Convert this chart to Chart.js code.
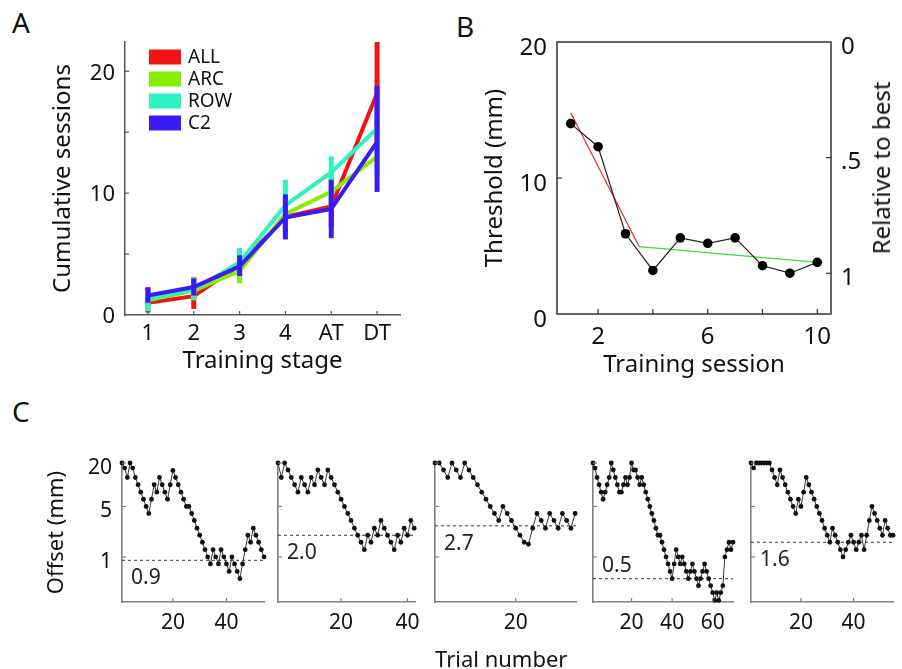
<!DOCTYPE html>
<html>
<head>
<meta charset="utf-8">
<script src="https://cdn.jsdelivr.net/npm/chart.js@4.4.1/dist/chart.umd.min.js"></script>
<style>
  body { margin: 0; background: #fff; }
  #page { position: relative; width: 902px; height: 669px; overflow: hidden; font-family: "Noto Sans", sans-serif; color: #111; }
  canvas { position: absolute; }
  .panel { position: absolute; font-size: 28px; line-height: 28px; }
  .note { position: absolute; font-size: 22px; line-height: 26px; white-space: nowrap; }
  .rot { position: absolute; font-size: 24px; line-height: 28px; white-space: nowrap; transform: translate(-50%, -50%) rotate(-90deg); }
</style>
</head>
<body>
<div id="page">
  <div class="panel" style="left:12px;top:8px">A</div>
  <div class="panel" style="left:456px;top:12px">B</div>
  <div class="panel" style="left:12px;top:397px">C</div>
  <canvas id="chartA" width="420" height="380" style="left:0;top:0"></canvas>
  <canvas id="chartB" width="482" height="380" style="left:420px;top:0"></canvas>
  <div id="relTitle" class="rot">Relative to best</div>
  <canvas id="run1" width="272" height="200" style="left:0;top:440px"></canvas>
  <canvas id="run2" width="160" height="200" style="left:268px;top:440px"></canvas>
  <canvas id="run3" width="159" height="200" style="left:425px;top:440px"></canvas>
  <canvas id="run4" width="159" height="200" style="left:582px;top:440px"></canvas>
  <canvas id="run5" width="161" height="200" style="left:740px;top:440px"></canvas>
  <div class="note" style="left:435px;top:645px">Trial number</div>
</div>
<script>
// ---- panel A: cumulative sessions per training stage
const stages = ['1', '2', '3', '4', 'AT', 'DT'];
const groupNames = ['ALL', 'ARC', 'ROW', 'C2'];
const groupColors = ['#f01414', '#86ee00', '#30f2c0', '#3a1af5'];
const allMean = [1.0, 1.55, 4.1, 8.05, 8.9, 18.2];
const allLo = [0.2, 0.5, 3.2, 6.8, 7.2, 14.2];
const allHi = [2.3, 3.1, 5.0, 9.6, 10.6, 22.4];
const arcMean = [1.2, 2.0, 3.6, 8.3, 10.1, 13.0];
const arcLo = [0.6, 1.2, 2.6, 7.0, 8.8, 11.5];
const arcHi = [1.9, 2.9, 4.8, 9.6, 11.6, 14.6];
const rowMean = [1.3, 2.1, 4.3, 9.0, 11.7, 15.3];
const rowLo = [0.3, 1.3, 3.2, 6.7, 10.6, 13.5];
const rowHi = [2.0, 3.1, 5.5, 11.1, 13.0, 17.0];
const c2Mean = [1.6, 2.3, 4.0, 8.0, 8.7, 14.2];
const c2Lo = [1.0, 1.6, 3.2, 6.2, 6.3, 10.1];
const c2Hi = [2.2, 3.0, 4.9, 9.9, 11.1, 18.8];
const sessionTicksA = [0, 5, 10, 15, 20];
const sessionLabelsA = [0, 10, 20];

// ---- panel B: threshold per training session
const sessions = [1, 2, 3, 4, 5, 6, 7, 8, 9, 10];
const threshold = [14.0, 12.3, 5.9, 3.2, 5.6, 5.2, 5.6, 3.55, 3.0, 3.8];
const earlyFitX = [1, 3.5];
const earlyFitY = [14.8, 4.95];
const lateFitX = [3.5, 10];
const lateFitY = [4.95, 3.8];
const sessionTicksB = [2, 4, 6, 8, 10];
const sessionLabelsB = [2, 6, 10];
const thresholdTicks = [0, 10, 20];
const relativeTicks = [0, 0.5, 1];
const relativeLabels = ['0', '.5', '1'];

// ---- panel C: staircase offsets (mm) per trial, five runs
const run1 = [20, 17, 12.6, 20, 17, 12.6, 10, 7.9, 6.3, 5,
  4, 6.3, 10, 7.9, 12.6, 10, 7.9, 6.3, 10, 15.8,
  12.6, 10, 7.9, 6.3, 5, 5, 4, 3.2, 2.5, 2,
  1.6, 1.26, 1, 0.8, 1.26, 1, 0.8, 1.26, 1, 0.8,
  0.63, 1, 0.8, 0.63, 0.5, 0.8, 1.26, 2, 1.6, 2.5,
  2, 1.6, 1.26, 1];
const run2 = [20, 12.6, 20, 16, 12.6, 10, 7.9, 12.6, 10, 7.9,
  12.6, 10, 16, 12.6, 10, 16, 12.6, 10, 7.9, 6.3,
  5, 4, 3.2, 2.5, 2, 1.6, 1.26, 2, 1.6, 2.5,
  2, 3.2, 2.5, 2, 1.6, 1.26, 2, 1.6, 2.5, 2,
  3.2, 2.5];
const run3 = [20, 20, 16, 12.6, 20, 16, 12.6, 20, 16, 12.6,
  10, 7.9, 6.3, 5, 4, 3.2, 5, 4, 3.2, 2.5,
  2, 1.6, 1.5, 2.5, 4, 3.2, 2.5, 4, 3.2, 2.5,
  4, 3.2, 2.5, 4];
const run4 = [20, 17, 12.6, 10, 7.9, 6.3, 7.9, 10, 12.6, 20,
  16, 12.6, 10, 7.9, 7.9, 10, 12.6, 10, 12.6, 20,
  16, 16, 12.6, 10, 12.6, 10, 7.9, 6.3, 5, 4,
  3.2, 2.5, 2, 2, 1.6, 1.26, 1, 0.8, 0.63, 0.5,
  0.8, 1.26, 1, 0.8, 1, 0.8, 0.63, 0.5, 0.63, 0.8,
  0.63, 0.5, 0.4, 0.5, 0.63, 0.8, 0.63, 0.5, 0.4, 0.32,
  0.25, 0.32, 0.25, 0.32, 0.4, 1, 1.26, 1.6, 1.26, 1.6];
const run5 = [20, 17, 20, 20, 20, 20, 20, 20, 16, 12.6,
  10, 16, 12.6, 10, 7.9, 6.3, 5, 4, 6.3, 5,
  7.9, 12.6, 10, 7.9, 6.3, 5, 4, 3.2, 2.5, 2,
  1.6, 2.5, 2, 1.6, 1.26, 1, 1.26, 1.6, 2, 1.6,
  1.26, 1.6, 2, 1.26, 2, 3.2, 5, 4, 3.2, 2.5,
  2, 3.2, 2.5, 2, 2];
const runThresholds = [0.9, 2.0, 2.7, 0.5, 1.6];
const runTrialMax = [54, 42.5, 34.2, 70, 55];
const runTrialTicks = [[20, 40], [20, 40], [20], [20, 40, 60], [20, 40]];
const offsetTicks = [1, 5, 20];

Chart.defaults.font.family = '"Noto Sans", sans-serif';
Chart.defaults.color = '#111';
Chart.defaults.animation = false;

// short tick marks pointing into the plot area
const inwardTicks = {
  id: 'inwardTicks',
  afterDatasetsDraw(chart, args, opts) {
    const ctx = chart.ctx;
    const len = opts.len || 5;
    ctx.save();
    ctx.strokeStyle = opts.color || '#555';
    ctx.lineWidth = opts.width || 1.2;
    for (const id of Object.keys(opts.marks || {})) {
      const s = chart.scales[id];
      if (!s) continue;
      for (const v of opts.marks[id]) {
        const p = s.getPixelForValue(v);
        ctx.beginPath();
        if (s.isHorizontal()) { ctx.moveTo(p, s.top); ctx.lineTo(p, s.top - len); }
        else if (s.position === 'left') { ctx.moveTo(s.right, p); ctx.lineTo(s.right + len, p); }
        else { ctx.moveTo(s.left, p); ctx.lineTo(s.left - len, p); }
        ctx.stroke();
      }
    }
    ctx.restore();
  }
};

// vertical error bars drawn just under each series' line
const errorBars = {
  id: 'errorBars',
  beforeDatasetDraw(chart, args, opts) {
    const r = opts.ranges && opts.ranges[args.index];
    if (!r) return;
    const {x, y} = chart.scales;
    const ctx = chart.ctx;
    ctx.save();
    ctx.strokeStyle = chart.data.datasets[args.index].borderColor;
    ctx.lineWidth = 5;
    r.lo.forEach((lo, i) => {
      const px = x.getPixelForValue(i);
      ctx.beginPath();
      ctx.moveTo(px, y.getPixelForValue(lo));
      ctx.lineTo(px, y.getPixelForValue(r.hi[i]));
      ctx.stroke();
    });
    ctx.restore();
  }
};

const legendA = {
  id: 'legendA',
  afterDatasetsDraw(chart) {
    const ctx = chart.ctx;
    const a = chart.chartArea;
    ctx.save();
    ctx.font = '19px "Noto Sans", sans-serif';
    ctx.textBaseline = 'middle';
    groupNames.forEach((name, i) => {
      const cy = a.top + 15 + 22 * i;
      ctx.fillStyle = groupColors[i];
      ctx.fillRect(a.left + 24, cy - 7.5, 32, 15);
      ctx.fillStyle = '#111';
      ctx.fillText(name, a.left + 63, cy + 1);
    });
    ctx.restore();
  }
};

const frameBox = {
  id: 'frameBox',
  afterDatasetsDraw(chart) {
    const a = chart.chartArea;
    const ctx = chart.ctx;
    ctx.save();
    ctx.strokeStyle = '#333';
    ctx.lineWidth = 1.5;
    ctx.strokeRect(a.left, a.top, a.right - a.left, a.bottom - a.top);
    ctx.restore();
  }
};

const thresholdLabel = {
  id: 'thresholdLabel',
  afterDatasetsDraw(chart, args, opts) {
    if (opts.value == null) return;
    const ctx = chart.ctx;
    const py = chart.scales.y.getPixelForValue(opts.value);
    ctx.save();
    ctx.font = '21px "Noto Sans", sans-serif';
    ctx.fillStyle = '#222';
    ctx.textBaseline = 'middle';
    ctx.fillText(opts.value.toFixed(1), chart.chartArea.left + 9, py + opts.dy);
    ctx.restore();
  }
};

const noGrid = {display: false, drawTicks: false};

// ---------- panel A
const meansA = [allMean, arcMean, rowMean, c2Mean];
new Chart(document.getElementById('chartA'), {
  type: 'line',
  data: {
    labels: stages,
    datasets: meansA.map((m, i) => ({
      label: groupNames[i],
      data: m,
      borderColor: groupColors[i],
      borderWidth: 4,
      pointRadius: 0,
      tension: 0,
      order: 3 - i
    }))
  },
  options: {
    responsive: false,
    layout: {padding: {top: 42, right: 20, left: 0, bottom: 0}},
    plugins: {
      legend: {display: false},
      tooltip: {enabled: false},
      errorBars: {ranges: [
        {lo: allLo, hi: allHi}, {lo: arcLo, hi: arcHi},
        {lo: rowLo, hi: rowHi}, {lo: c2Lo, hi: c2Hi}
      ]},
      inwardTicks: {marks: {x: [0, 1, 2, 3, 4, 5], y: [5, 10, 15, 20]}, color: '#555', len: 4}
    },
    scales: {
      x: {
        type: 'category', offset: true,
        grid: noGrid,
        border: {color: '#555', width: 1.5},
        ticks: {font: {size: 22}, padding: 6, color: '#111', maxRotation: 0, autoSkip: false},
        title: {display: true, text: 'Training stage', font: {size: 24}, color: '#111', padding: {top: 0, bottom: 4}},
        afterFit: s => { s.height = 65; }
      },
      y: {
        min: 0, max: 22.4,
        grid: noGrid,
        border: {color: '#555', width: 1.5},
        afterBuildTicks: s => { s.ticks = sessionTicksA.map(v => ({value: v})); },
        ticks: {font: {size: 22}, padding: 10, labelOffset: 2, color: '#111',
          callback: v => sessionLabelsA.includes(v) ? String(v) : ''},
        title: {display: true, text: 'Cumulative sessions', font: {size: 24}, color: '#111', padding: {top: 49, bottom: 0}},
        afterFit: s => { s.width = 125; }
      }
    }
  },
  plugins: [errorBars, legendA, inwardTicks]
});

// ---------- panel B
const toPoints = (xs, ys) => xs.map((x, i) => ({x: x, y: ys[i]}));
new Chart(document.getElementById('chartB'), {
  type: 'line',
  data: {
    datasets: [
      {data: toPoints(sessions, threshold), borderColor: '#222', borderWidth: 1.2,
        pointRadius: 4.8, pointBackgroundColor: '#000', pointBorderWidth: 0, tension: 0, order: 0, clip: false},
      {data: toPoints(earlyFitX, earlyFitY), borderColor: '#e3343c', borderWidth: 1.3, pointRadius: 0, order: 1},
      {data: toPoints(lateFitX, lateFitY), borderColor: '#3fd93f', borderWidth: 1.3, pointRadius: 0, order: 2}
    ]
  },
  options: {
    responsive: false,
    layout: {padding: {top: 42, right: 0, left: 0, bottom: 0}},
    plugins: {
      legend: {display: false},
      tooltip: {enabled: false},
      inwardTicks: {marks: {x: sessionTicksB, y: [10], y2: [0.5, 1]}, color: '#333', len: 5}
    },
    scales: {
      x: {
        type: 'linear', min: 0.5, max: 10.5,
        grid: noGrid, border: {display: false},
        afterBuildTicks: s => { s.ticks = sessionTicksB.map(v => ({value: v})); },
        ticks: {font: {size: 24}, padding: 9, color: '#111', maxRotation: 0,
          callback: v => sessionLabelsB.includes(v) ? String(v) : ''},
        title: {display: true, text: 'Training session', font: {size: 24}, color: '#111', padding: {top: 0, bottom: 0}},
        afterFit: s => { s.height = 66; }
      },
      y: {
        min: 0, max: 20,
        grid: noGrid, border: {display: false},
        afterBuildTicks: s => { s.ticks = thresholdTicks.map(v => ({value: v})); },
        ticks: {font: {size: 24}, padding: 10, labelOffset: 6, color: '#111'},
        title: {display: true, text: 'Threshold (mm)', font: {size: 24}, color: '#111', padding: {top: 61, bottom: 0}},
        afterFit: s => { s.width = 137; }
      },
      y2: {
        position: 'right', min: 0, max: 1.176, reverse: true,
        grid: noGrid, border: {display: false},
        afterBuildTicks: s => { s.ticks = relativeTicks.map(v => ({value: v})); },
        ticks: {font: {size: 24}, padding: 10, labelOffset: 5, color: '#111',
          callback: v => relativeLabels[relativeTicks.indexOf(v)]},
        afterFit: s => { s.width = 71; }
      }
    }
  },
  plugins: [frameBox, inwardTicks]
});
const rel = document.getElementById('relTitle');
rel.style.left = '881px';
rel.style.top = '168px';

// ---------- panel C
const runs = [run1, run2, run3, run4, run5];
const runCanvas = ['run1', 'run2', 'run3', 'run4', 'run5'];
const runAxisWidth = [122, 10, 10, 11, 11];
const runLabelShift = [18, 18, 18, -13, 18];
runs.forEach((vals, r) => {
  const first = r === 0;
  const xMax = runTrialMax[r];
  new Chart(document.getElementById(runCanvas[r]), {
    type: 'line',
    data: {
      datasets: [
        {data: vals.map((v, i) => ({x: i + 1, y: v})), borderColor: '#3a3a3a', borderWidth: 1,
          pointRadius: 2.4, pointBackgroundColor: '#111', pointBorderWidth: 0, tension: 0, clip: false, order: 0},
        {data: [{x: 1, y: runThresholds[r]}, {x: xMax, y: runThresholds[r]}], borderColor: '#333',
          borderWidth: 1, borderDash: [3, 3], pointRadius: 0, order: 1}
      ]
    },
    options: {
      responsive: false,
      layout: {padding: {top: 23, right: 8, left: 0, bottom: 0}},
      plugins: {
        legend: {display: false},
        tooltip: {enabled: false},
        thresholdLabel: {value: runThresholds[r], dy: runLabelShift[r]},
        inwardTicks: {marks: {x: runTrialTicks[r], y: offsetTicks}, color: '#808080', len: 4}
      },
      scales: {
        x: {
          type: 'linear', min: 1, max: xMax,
          grid: noGrid, border: {color: '#808080', width: 1.6},
          afterBuildTicks: s => { s.ticks = runTrialTicks[r].map(v => ({value: v})); },
          ticks: {font: {size: 21}, padding: 8, color: '#111', maxRotation: 0},
          afterFit: s => { s.height = 38; }
        },
        y: {
          type: 'logarithmic', min: 0.238, max: 20,
          grid: noGrid, border: {color: '#808080', width: 1.6},
          afterBuildTicks: s => { s.ticks = offsetTicks.map(v => ({value: v})); },
          ticks: {display: first, font: {size: 21}, padding: 10, labelOffset: 5, color: '#111',
            callback: v => String(v)},
          title: {display: first, text: 'Offset (mm)', font: {size: 22}, color: '#111', padding: {top: 44, bottom: 0}},
          afterFit: s => { s.width = runAxisWidth[r]; }
        }
      }
    },
    plugins: [thresholdLabel, inwardTicks]
  });
});
</script>
</body>
</html>
